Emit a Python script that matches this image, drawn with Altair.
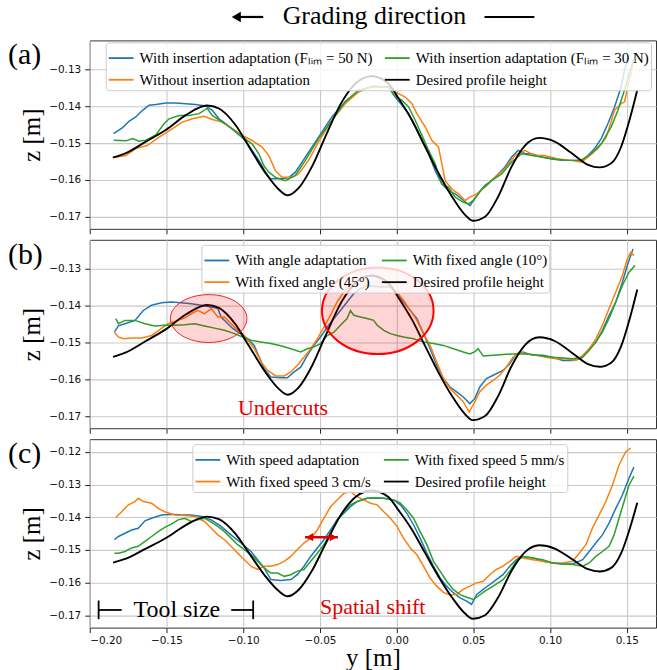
import altair as alt
import pandas as pd

# ---------------- data ----------------
XTICKS = [-0.20, -0.15, -0.10, -0.05, 0.00, 0.05, 0.10, 0.15]
YTICKS_AB = [-0.17, -0.16, -0.15, -0.14, -0.13]
YTICKS_C = [-0.17, -0.16, -0.15, -0.14, -0.13, -0.12]

DESIRED = [(-0.1848, -0.1539), (-0.1764, -0.1527), (-0.1634, -0.1496), (-0.1500, -0.1463),
           (-0.1374, -0.1424), (-0.1236, -0.1398), (-0.1158, -0.1406), (-0.1050, -0.1451),
           (-0.0963, -0.1509), (-0.0855, -0.1581), (-0.0768, -0.1626), (-0.0710, -0.1642),
           (-0.0638, -0.1622), (-0.0552, -0.1564), (-0.0465, -0.1483), (-0.0357, -0.1388),
           (-0.0270, -0.1339), (-0.0210, -0.1322), (-0.0160, -0.1318), (-0.0110, -0.1323),
           (-0.0052, -0.1339), (0.0013, -0.1379), (0.0100, -0.1438), (0.0186, -0.1510),
           (0.0273, -0.1582), (0.0360, -0.1645), (0.0446, -0.1695), (0.0495, -0.1711),
           (0.0576, -0.1700), (0.0662, -0.1645), (0.0749, -0.1564), (0.0836, -0.1507),
           (0.0930, -0.1486), (0.1030, -0.1496), (0.1139, -0.1527), (0.1247, -0.1559),
           (0.1323, -0.1566), (0.1398, -0.1555), (0.1463, -0.1510), (0.1517, -0.1438),
           (0.1568, -0.1356)]

A_BLUE = [(-0.1844, -0.1474), (-0.1786, -0.1458), (-0.1742, -0.1440), (-0.1700, -0.1429), (-0.1656, -0.1411),
          (-0.1613, -0.1397), (-0.1569, -0.1395), (-0.1504, -0.1391), (-0.1439, -0.1391), (-0.1374, -0.1393),
          (-0.1310, -0.1395), (-0.1245, -0.1399), (-0.1201, -0.1411), (-0.1158, -0.1434), (-0.1115, -0.1447),
          (-0.1050, -0.1470), (-0.0985, -0.1493), (-0.0942, -0.1520), (-0.0898, -0.1547), (-0.0855, -0.1579),
          (-0.0823, -0.1597), (-0.0768, -0.1597), (-0.0703, -0.1594), (-0.0660, -0.1579), (-0.0595, -0.1538),
          (-0.0509, -0.1484), (-0.0422, -0.1429), (-0.0336, -0.1388), (-0.0249, -0.1361), (-0.0162, -0.1347),
          (-0.0052, -0.1347), (-0.0009, -0.1375), (0.0035, -0.1397), (0.0078, -0.1420), (0.0121, -0.1456),
          (0.0165, -0.1493), (0.0208, -0.1529), (0.0251, -0.1575), (0.0294, -0.1611), (0.0338, -0.1629),
          (0.0381, -0.1638), (0.0424, -0.1652), (0.0478, -0.1670), (0.0500, -0.1656), (0.0532, -0.1638),
          (0.0576, -0.1615), (0.0619, -0.1602), (0.0662, -0.1584), (0.0706, -0.1565), (0.0749, -0.1538),
          (0.0792, -0.1520), (0.0836, -0.1529), (0.0879, -0.1529), (0.0944, -0.1538), (0.1009, -0.1543),
          (0.1074, -0.1547), (0.1139, -0.1547), (0.1203, -0.1547), (0.1247, -0.1534), (0.1290, -0.1515),
          (0.1333, -0.1488), (0.1377, -0.1447), (0.1420, -0.1402), (0.1463, -0.1347), (0.1485, -0.1302),
          (0.1511, -0.1261)]

A_ORANGE = [(-0.1851, -0.1540), (-0.1764, -0.1534), (-0.1699, -0.1515), (-0.1623, -0.1506), (-0.1548, -0.1484),
            (-0.1461, -0.1461), (-0.1396, -0.1443), (-0.1331, -0.1434), (-0.1255, -0.1427), (-0.1201, -0.1436),
            (-0.1136, -0.1443), (-0.1071, -0.1461), (-0.1006, -0.1479), (-0.0942, -0.1493), (-0.0877, -0.1511),
            (-0.0833, -0.1534), (-0.0790, -0.1575), (-0.0747, -0.1593), (-0.0682, -0.1593), (-0.0639, -0.1584),
            (-0.0574, -0.1547), (-0.0509, -0.1497), (-0.0422, -0.1438), (-0.0336, -0.1393), (-0.0249, -0.1361),
            (-0.0162, -0.1345), (-0.0052, -0.1347), (-0.0009, -0.1361), (0.0056, -0.1375), (0.0100, -0.1393),
            (0.0132, -0.1420), (0.0186, -0.1456), (0.0230, -0.1493), (0.0273, -0.1511), (0.0316, -0.1602),
            (0.0360, -0.1625), (0.0403, -0.1638), (0.0446, -0.1656), (0.0478, -0.1647), (0.0522, -0.1638),
            (0.0576, -0.1620), (0.0641, -0.1593), (0.0706, -0.1570), (0.0771, -0.1534), (0.0836, -0.1520),
            (0.0900, -0.1534), (0.0965, -0.1534), (0.1052, -0.1543), (0.1139, -0.1547), (0.1203, -0.1552),
            (0.1247, -0.1538), (0.1312, -0.1515), (0.1366, -0.1484), (0.1420, -0.1411), (0.1463, -0.1393),
            (0.1485, -0.1388), (0.1511, -0.1338), (0.1539, -0.1284)]

A_GREEN = [(-0.1844, -0.1492), (-0.1764, -0.1494), (-0.1720, -0.1488), (-0.1680, -0.1495), (-0.1634, -0.1492),
           (-0.1569, -0.1478), (-0.1515, -0.1447), (-0.1483, -0.1434), (-0.1418, -0.1425), (-0.1353, -0.1425),
           (-0.1288, -0.1420), (-0.1234, -0.1406), (-0.1201, -0.1425), (-0.1136, -0.1443), (-0.1071, -0.1461),
           (-0.1006, -0.1484), (-0.0942, -0.1502), (-0.0898, -0.1529), (-0.0866, -0.1561), (-0.0833, -0.1579),
           (-0.0790, -0.1593), (-0.0725, -0.1602), (-0.0660, -0.1588), (-0.0595, -0.1547), (-0.0509, -0.1488),
           (-0.0422, -0.1438), (-0.0336, -0.1388), (-0.0249, -0.1356), (-0.0162, -0.1347), (-0.0052, -0.1347),
           (-0.0019, -0.1370), (0.0035, -0.1384), (0.0078, -0.1402), (0.0121, -0.1438), (0.0165, -0.1479),
           (0.0208, -0.1520), (0.0251, -0.1556), (0.0294, -0.1611), (0.0338, -0.1620), (0.0381, -0.1647),
           (0.0435, -0.1661), (0.0468, -0.1665), (0.0500, -0.1656), (0.0554, -0.1625), (0.0619, -0.1602),
           (0.0684, -0.1584), (0.0749, -0.1552), (0.0814, -0.1529), (0.0879, -0.1534), (0.0944, -0.1538),
           (0.1030, -0.1543), (0.1117, -0.1547), (0.1203, -0.1547), (0.1268, -0.1529), (0.1333, -0.1502),
           (0.1398, -0.1456), (0.1442, -0.1411), (0.1485, -0.1356), (0.1528, -0.1293), (0.1561, -0.1256)]

B_BLUE = [(-0.1839, -0.1471), (-0.1813, -0.1455), (-0.1770, -0.1449), (-0.1705, -0.1440), (-0.1651, -0.1413),
          (-0.1597, -0.1399), (-0.1532, -0.1392), (-0.1468, -0.1390), (-0.1403, -0.1392), (-0.1338, -0.1395),
          (-0.1273, -0.1399), (-0.1208, -0.1404), (-0.1165, -0.1408), (-0.1144, -0.1431), (-0.1100, -0.1449),
          (-0.1068, -0.1462), (-0.1036, -0.1471), (-0.1003, -0.1480), (-0.0971, -0.1490), (-0.0928, -0.1508),
          (-0.0906, -0.1530), (-0.0863, -0.1571), (-0.0820, -0.1594), (-0.0755, -0.1596), (-0.0712, -0.1596),
          (-0.0668, -0.1580), (-0.0625, -0.1567), (-0.0582, -0.1535), (-0.0539, -0.1508), (-0.0496, -0.1485),
          (-0.0452, -0.1458), (-0.0409, -0.1435), (-0.0366, -0.1413), (-0.0323, -0.1390), (-0.0279, -0.1367),
          (-0.0236, -0.1354), (-0.0193, -0.1345), (-0.0106, -0.1349), (-0.0041, -0.1349), (0.0002, -0.1367),
          (0.0045, -0.1390), (0.0089, -0.1413), (0.0132, -0.1435), (0.0175, -0.1476), (0.0218, -0.1517),
          (0.0261, -0.1562), (0.0305, -0.1598), (0.0348, -0.1621), (0.0391, -0.1634), (0.0434, -0.1648),
          (0.0477, -0.1666), (0.0510, -0.1652), (0.0542, -0.1621), (0.0585, -0.1598), (0.0629, -0.1589),
          (0.0693, -0.1576), (0.0736, -0.1558), (0.0780, -0.1531), (0.0823, -0.1526), (0.0888, -0.1535),
          (0.0952, -0.1535), (0.1017, -0.1540), (0.1082, -0.1549), (0.1147, -0.1549), (0.1201, -0.1544),
          (0.1255, -0.1517), (0.1298, -0.1499), (0.1341, -0.1467), (0.1384, -0.1427), (0.1428, -0.1390),
          (0.1471, -0.1336), (0.1503, -0.1291), (0.1540, -0.1246)]

B_ORANGE = [(-0.1839, -0.1473), (-0.1813, -0.1485), (-0.1780, -0.1490), (-0.1727, -0.1488), (-0.1662, -0.1488),
            (-0.1597, -0.1481), (-0.1532, -0.1462), (-0.1489, -0.1449), (-0.1446, -0.1443), (-0.1381, -0.1433),
            (-0.1338, -0.1422), (-0.1295, -0.1413), (-0.1252, -0.1422), (-0.1208, -0.1408), (-0.1165, -0.1431),
            (-0.1122, -0.1431), (-0.1079, -0.1449), (-0.1036, -0.1467), (-0.0992, -0.1481), (-0.0928, -0.1517),
            (-0.0884, -0.1552), (-0.0841, -0.1576), (-0.0787, -0.1591), (-0.0733, -0.1591), (-0.0690, -0.1580),
            (-0.0647, -0.1562), (-0.0604, -0.1540), (-0.0560, -0.1517), (-0.0517, -0.1490), (-0.0474, -0.1458),
            (-0.0431, -0.1426), (-0.0388, -0.1390), (-0.0344, -0.1363), (-0.0301, -0.1345), (-0.0258, -0.1331),
            (-0.0215, -0.1322), (-0.0172, -0.1319), (-0.0127, -0.1322), (-0.0084, -0.1336), (-0.0041, -0.1349),
            (0.0002, -0.1363), (0.0045, -0.1386), (0.0089, -0.1413), (0.0132, -0.1440), (0.0175, -0.1476),
            (0.0218, -0.1508), (0.0261, -0.1553), (0.0305, -0.1598), (0.0348, -0.1625), (0.0391, -0.1643),
            (0.0434, -0.1661), (0.0473, -0.1689), (0.0510, -0.1661), (0.0542, -0.1634), (0.0585, -0.1616),
            (0.0629, -0.1603), (0.0672, -0.1589), (0.0715, -0.1567), (0.0758, -0.1540), (0.0801, -0.1526),
            (0.0844, -0.1531), (0.0909, -0.1535), (0.0974, -0.1540), (0.1039, -0.1544), (0.1104, -0.1544),
            (0.1168, -0.1549), (0.1212, -0.1535), (0.1255, -0.1517), (0.1298, -0.1490), (0.1341, -0.1453),
            (0.1384, -0.1408), (0.1428, -0.1363), (0.1471, -0.1318), (0.1503, -0.1273), (0.1525, -0.1255),
            (0.1546, -0.1264)]

B_GREEN = [(-0.1830, -0.1435), (-0.1813, -0.1449), (-0.1770, -0.1440), (-0.1705, -0.1440), (-0.1640, -0.1449),
           (-0.1576, -0.1455), (-0.1511, -0.1453), (-0.1446, -0.1453), (-0.1381, -0.1452), (-0.1316, -0.1449),
           (-0.1252, -0.1455), (-0.1187, -0.1461), (-0.1122, -0.1467), (-0.1057, -0.1476), (-0.1003, -0.1485),
           (-0.0949, -0.1494), (-0.0884, -0.1499), (-0.0820, -0.1503), (-0.0755, -0.1509), (-0.0690, -0.1517),
           (-0.0625, -0.1526), (-0.0582, -0.1517), (-0.0539, -0.1512), (-0.0496, -0.1503), (-0.0452, -0.1481),
           (-0.0409, -0.1472), (-0.0366, -0.1453), (-0.0323, -0.1435), (-0.0301, -0.1413), (-0.0279, -0.1426),
           (-0.0236, -0.1431), (-0.0193, -0.1435), (-0.0150, -0.1440), (-0.0127, -0.1453), (-0.0084, -0.1467),
           (-0.0041, -0.1476), (0.0002, -0.1481), (0.0045, -0.1485), (0.0110, -0.1490), (0.0175, -0.1499),
           (0.0240, -0.1503), (0.0305, -0.1508), (0.0370, -0.1517), (0.0434, -0.1526), (0.0477, -0.1531),
           (0.0510, -0.1525), (0.0531, -0.1517), (0.0564, -0.1537), (0.0629, -0.1535), (0.0693, -0.1533),
           (0.0758, -0.1531), (0.0823, -0.1531), (0.0888, -0.1533), (0.0952, -0.1537), (0.1017, -0.1540),
           (0.1082, -0.1542), (0.1147, -0.1544), (0.1212, -0.1540), (0.1255, -0.1521), (0.1298, -0.1499),
           (0.1341, -0.1471), (0.1384, -0.1435), (0.1428, -0.1390), (0.1471, -0.1345), (0.1514, -0.1309),
           (0.1553, -0.1291)]

C_BLUE = [(-0.1839, -0.1469), (-0.1813, -0.1459), (-0.1770, -0.1449), (-0.1727, -0.1439), (-0.1684, -0.1434),
          (-0.1640, -0.1411), (-0.1597, -0.1403), (-0.1532, -0.1393), (-0.1468, -0.1391), (-0.1403, -0.1393),
          (-0.1338, -0.1393), (-0.1273, -0.1398), (-0.1208, -0.1408), (-0.1144, -0.1428), (-0.1079, -0.1454),
          (-0.1014, -0.1479), (-0.0949, -0.1505), (-0.0906, -0.1530), (-0.0863, -0.1555), (-0.0820, -0.1591),
          (-0.0755, -0.1594), (-0.0690, -0.1591), (-0.0647, -0.1576), (-0.0604, -0.1550), (-0.0560, -0.1520),
          (-0.0517, -0.1494), (-0.0474, -0.1469), (-0.0431, -0.1439), (-0.0388, -0.1408), (-0.0344, -0.1388),
          (-0.0301, -0.1368), (-0.0258, -0.1352), (-0.0193, -0.1342), (-0.0149, -0.1342), (-0.0084, -0.1342),
          (-0.0019, -0.1347), (0.0024, -0.1362), (0.0067, -0.1388), (0.0110, -0.1423), (0.0153, -0.1464),
          (0.0197, -0.1510), (0.0240, -0.1550), (0.0283, -0.1586), (0.0326, -0.1611), (0.0369, -0.1631),
          (0.0413, -0.1647), (0.0456, -0.1657), (0.0488, -0.1667), (0.0521, -0.1637), (0.0564, -0.1621),
          (0.0607, -0.1606), (0.0650, -0.1591), (0.0693, -0.1576), (0.0737, -0.1550), (0.0780, -0.1530),
          (0.0823, -0.1520), (0.0888, -0.1525), (0.0952, -0.1535), (0.1017, -0.1540), (0.1082, -0.1543),
          (0.1147, -0.1543), (0.1212, -0.1530), (0.1255, -0.1505), (0.1298, -0.1479), (0.1341, -0.1454),
          (0.1384, -0.1418), (0.1428, -0.1373), (0.1471, -0.1332), (0.1514, -0.1281), (0.1546, -0.1246)]

C_ORANGE = [(-0.1830, -0.1401), (-0.1792, -0.1383), (-0.1748, -0.1362), (-0.1705, -0.1352), (-0.1684, -0.1342),
            (-0.1651, -0.1352), (-0.1597, -0.1357), (-0.1554, -0.1373), (-0.1511, -0.1383), (-0.1446, -0.1393),
            (-0.1381, -0.1395), (-0.1316, -0.1398), (-0.1252, -0.1413), (-0.1208, -0.1434), (-0.1165, -0.1454),
            (-0.1122, -0.1469), (-0.1079, -0.1489), (-0.1036, -0.1510), (-0.0992, -0.1530), (-0.0949, -0.1550),
            (-0.0906, -0.1560), (-0.0863, -0.1550), (-0.0820, -0.1550), (-0.0776, -0.1545), (-0.0733, -0.1535),
            (-0.0690, -0.1520), (-0.0647, -0.1499), (-0.0604, -0.1479), (-0.0560, -0.1464), (-0.0517, -0.1439),
            (-0.0474, -0.1403), (-0.0431, -0.1368), (-0.0388, -0.1347), (-0.0344, -0.1327), (-0.0301, -0.1322),
            (-0.0258, -0.1337), (-0.0215, -0.1347), (-0.0171, -0.1357), (-0.0127, -0.1362), (-0.0084, -0.1383),
            (-0.0041, -0.1403), (0.0002, -0.1428), (0.0045, -0.1464), (0.0089, -0.1494), (0.0132, -0.1515),
            (0.0175, -0.1550), (0.0218, -0.1586), (0.0261, -0.1611), (0.0305, -0.1630), (0.0348, -0.1638),
            (0.0391, -0.1636), (0.0434, -0.1621), (0.0477, -0.1611), (0.0521, -0.1601), (0.0564, -0.1596),
            (0.0607, -0.1576), (0.0650, -0.1560), (0.0693, -0.1550), (0.0737, -0.1535), (0.0780, -0.1520),
            (0.0823, -0.1525), (0.0888, -0.1530), (0.0952, -0.1535), (0.1017, -0.1540), (0.1082, -0.1540),
            (0.1147, -0.1535), (0.1190, -0.1510), (0.1233, -0.1484), (0.1276, -0.1433), (0.1320, -0.1393),
            (0.1363, -0.1352), (0.1406, -0.1302), (0.1449, -0.1240), (0.1492, -0.1200), (0.1525, -0.1188)]

C_GREEN = [(-0.1839, -0.1510), (-0.1813, -0.1510), (-0.1770, -0.1505), (-0.1727, -0.1494), (-0.1684, -0.1489),
           (-0.1640, -0.1474), (-0.1597, -0.1459), (-0.1554, -0.1444), (-0.1511, -0.1431), (-0.1468, -0.1421),
           (-0.1424, -0.1408), (-0.1381, -0.1403), (-0.1338, -0.1413), (-0.1295, -0.1408), (-0.1252, -0.1403),
           (-0.1208, -0.1415), (-0.1165, -0.1428), (-0.1122, -0.1444), (-0.1079, -0.1464), (-0.1036, -0.1484),
           (-0.0992, -0.1499), (-0.0949, -0.1515), (-0.0906, -0.1535), (-0.0863, -0.1555), (-0.0820, -0.1571),
           (-0.0776, -0.1571), (-0.0733, -0.1581), (-0.0690, -0.1576), (-0.0647, -0.1565), (-0.0604, -0.1560),
           (-0.0560, -0.1535), (-0.0517, -0.1510), (-0.0474, -0.1484), (-0.0431, -0.1449), (-0.0388, -0.1408),
           (-0.0344, -0.1383), (-0.0301, -0.1362), (-0.0258, -0.1352), (-0.0193, -0.1342), (-0.0149, -0.1340),
           (-0.0084, -0.1342), (-0.0019, -0.1347), (0.0024, -0.1357), (0.0067, -0.1378), (0.0110, -0.1403),
           (0.0153, -0.1444), (0.0197, -0.1484), (0.0240, -0.1535), (0.0283, -0.1565), (0.0326, -0.1596),
           (0.0369, -0.1621), (0.0413, -0.1637), (0.0456, -0.1645), (0.0499, -0.1652), (0.0531, -0.1642),
           (0.0575, -0.1626), (0.0629, -0.1611), (0.0693, -0.1591), (0.0737, -0.1565), (0.0780, -0.1535),
           (0.0823, -0.1520), (0.0888, -0.1525), (0.0952, -0.1530), (0.1017, -0.1540), (0.1082, -0.1543),
           (0.1147, -0.1545), (0.1212, -0.1550), (0.1255, -0.1540), (0.1298, -0.1520), (0.1341, -0.1505),
           (0.1384, -0.1489), (0.1417, -0.1454), (0.1449, -0.1403), (0.1482, -0.1352), (0.1514, -0.1302),
           (0.1546, -0.1274)]

LABELS_A = {"blue": "With insertion adaptation (F\u2097\u1d62\u2098 = 50 N)",
            "orange": "Without insertion adaptation",
            "green": "With insertion adaptation (F\u2097\u1d62\u2098 = 30 N)",
            "black": "Desired profile height"}
LABELS_B = {"blue": "With angle adaptation", "orange": "With fixed angle (45°)",
            "green": "With fixed angle (10°)", "black": "Desired profile height"}
LABELS_C = {"blue": "With speed adaptation", "orange": "With fixed speed 3 cm/s",
            "green": "With fixed speed 5 mm/s", "black": "Desired profile height"}

# annotations
UNDERCUT_ELLIPSES = [(-0.1225, -0.1435), (-0.0123, -0.1414)]
UNDERCUT_TEXT = [(-0.0740, -0.1698, "Undercuts")]
SHIFT_TEXT = [(-0.0156, -0.1695, "Spatial shift")]
SHIFT_ARROW = [(-0.0597, -0.0383, -0.1461)]
TOOL_TEXT = [(-0.1432, -0.1707, "Tool size")]
TOOL_HBARS = [(-0.1942, -0.1792, -0.1684), (-0.1078, -0.0935, -0.1684)]
TOOL_VBARS = [(-0.1942, -0.1655, -0.1712), (-0.0935, -0.1655, -0.1712)]
HEADER = "Grading direction"

BLUE, ORANGE, GREEN, BLACK = "#1f77b4", "#ff7f0e", "#2ca02c", "#000000"
SERIF = "Liberation Serif"
PW = 568
XDOM = [-0.2, 0.169]
YDOM_AB = [-0.1733, -0.1221]
YDOM_C = [-0.1738, -0.1161]


def sdf(pairs, label):
    return pd.DataFrame({"y": [p[0] for p in pairs], "z": [p[1] for p in pairs], "s": label})


def make_panel(tag, labels, blue, orange, green, ydom, yticks, show_x, leg_x, leg_y, extras_fn):
    dom = [labels["blue"], labels["orange"], labels["green"], labels["black"]]
    color = alt.Color("s:N", scale=alt.Scale(domain=dom, range=[BLUE, ORANGE, GREEN, BLACK]),
                      legend=alt.Legend(title=None, orient="none", legendX=leg_x, legendY=leg_y,
                                        columns=2, symbolType="stroke", symbolSize=620,
                                        symbolStrokeWidth=1.8, labelFont=SERIF, labelFontSize=15,
                                        labelColor="#000", labelLimit=500, labelOffset=5,
                                        columnPadding=8, rowPadding=-16, padding=2,
                                        fillColor="rgba(255,255,255,0.8)", strokeColor="#cccccc",
                                        cornerRadius=3))
    if show_x:
        xaxis = alt.Axis(values=XTICKS, format=".2f", title="y [m]", labelPadding=3, titlePadding=0)
    else:
        xaxis = alt.Axis(values=XTICKS, labels=False, title=None)
    xenc = alt.X("y:Q", scale=alt.Scale(domain=XDOM, nice=False, zero=False), axis=xaxis)
    yenc = alt.Y("z:Q", scale=alt.Scale(domain=ydom, nice=False, zero=False),
                 axis=alt.Axis(values=yticks, format=".2f", title="z [m]", labelPadding=4,
                               titlePadding=4))
    layers = []
    for pairs, key in [(blue, "blue"), (orange, "orange"), (green, "green")]:
        layers.append(alt.Chart(sdf(pairs, labels[key])).mark_line(strokeWidth=1.5, clip=True)
                      .encode(x=xenc, y=yenc, color=color))
    layers.append(alt.Chart(sdf(DESIRED, labels["black"]))
                  .mark_line(strokeWidth=1.9, interpolate="monotone", clip=True)
                  .encode(x=xenc, y=yenc, color=color))
    layers.extend(extras_fn(xenc, yenc))
    layers.append(alt.Chart(pd.DataFrame({"t": [tag]}))
                  .mark_text(align="left", baseline="middle", font=SERIF, fontSize=30, color="#000")
                  .encode(text="t:N", x=alt.value(-82), y=alt.value(15)))
    return alt.layer(*layers).properties(width=PW, height=189)


def extras_a(xenc, yenc):
    # header above panel (a): arrow, "Grading direction", bar
    one = pd.DataFrame({"t": [HEADER]})
    return [
        alt.Chart(one).mark_text(font=SERIF, fontSize=26, color="#000", align="center",
                                 baseline="middle")
        .encode(text="t:N", x=alt.value(285.5), y=alt.value(-24)),
        alt.Chart(one).mark_rule(color="#000", strokeWidth=2.2)
        .encode(x=alt.value(150), x2=alt.value(174), y=alt.value(-23.5)),
        alt.Chart(one).mark_point(shape="triangle-left", filled=True, color="#000", size=110, opacity=1)
        .encode(x=alt.value(147), y=alt.value(-23.5)),
        alt.Chart(one).mark_rule(color="#000", strokeWidth=2.2)
        .encode(x=alt.value(396), x2=alt.value(446), y=alt.value(-23.5)),
    ]


def extras_b(xenc, yenc):
    e1 = pd.DataFrame({"y": [UNDERCUT_ELLIPSES[0][0]], "z": [UNDERCUT_ELLIPSES[0][1]]})
    e2 = pd.DataFrame({"y": [UNDERCUT_ELLIPSES[1][0]], "z": [UNDERCUT_ELLIPSES[1][1]]})
    t = pd.DataFrame({"y": [p[0] for p in UNDERCUT_TEXT], "z": [p[1] for p in UNDERCUT_TEXT],
                      "t": [p[2] for p in UNDERCUT_TEXT]})
    return [
        alt.Chart(e1).mark_point(shape="M -1 0 A 1 0.626 0 1 1 1 0 A 1 0.626 0 1 1 -1 0 Z",
                                 size=5880, filled=True, fill="#ff0000", fillOpacity=0.17,
                                 stroke="#ee2222", strokeWidth=1, opacity=1)
        .encode(x=xenc, y=yenc),
        alt.Chart(e2).mark_point(shape="M -1 0 A 1 0.774 0 1 1 1 0 A 1 0.774 0 1 1 -1 0 Z",
                                 size=12540, filled=True, fill="#ff0000", fillOpacity=0.17,
                                 stroke="#ff0000", strokeWidth=2, opacity=1)
        .encode(x=xenc, y=yenc),
        alt.Chart(t).mark_text(font=SERIF, fontSize=22, color="#e00000", baseline="alphabetic")
        .encode(x=xenc, y=yenc, text="t:N"),
    ]


def extras_c(xenc, yenc):
    st = pd.DataFrame({"y": [p[0] for p in SHIFT_TEXT], "z": [p[1] for p in SHIFT_TEXT],
                       "t": [p[2] for p in SHIFT_TEXT]})
    tt = pd.DataFrame({"y": [p[0] for p in TOOL_TEXT], "z": [p[1] for p in TOOL_TEXT],
                       "t": [p[2] for p in TOOL_TEXT]})
    ar = pd.DataFrame({"y": [SHIFT_ARROW[0][0]], "y2": [SHIFT_ARROW[0][1]], "z": [SHIFT_ARROW[0][2]]})
    heads = pd.DataFrame({"y": [SHIFT_ARROW[0][0] + 0.0030, SHIFT_ARROW[0][1] - 0.0030],
                          "z": [SHIFT_ARROW[0][2]] * 2,
                          "sh": ["triangle-left", "triangle-right"]})
    hb = pd.DataFrame({"y": [b[0] for b in TOOL_HBARS], "y2": [b[1] for b in TOOL_HBARS],
                       "z": [b[2] for b in TOOL_HBARS]})
    vb = pd.DataFrame({"y": [b[0] for b in TOOL_VBARS], "z": [b[1] for b in TOOL_VBARS],
                       "z2": [b[2] for b in TOOL_VBARS]})
    return [
        alt.Chart(st).mark_text(font=SERIF, fontSize=22, color="#e00000", baseline="alphabetic")
        .encode(x=xenc, y=yenc, text="t:N"),
        alt.Chart(tt).mark_text(font=SERIF, fontSize=24, color="#000", baseline="alphabetic")
        .encode(x=xenc, y=yenc, text="t:N"),
        alt.Chart(ar).mark_rule(color="#dd0000", strokeWidth=2.5)
        .encode(x=xenc, x2="y2:Q", y=yenc),
        alt.Chart(heads).mark_point(filled=True, color="#dd0000", size=70, opacity=1)
        .encode(x=xenc, y=yenc, shape=alt.Shape("sh:N", scale=None, legend=None)),
        alt.Chart(hb).mark_rule(color="#000", strokeWidth=1.8).encode(x=xenc, x2="y2:Q", y=yenc),
        alt.Chart(vb).mark_rule(color="#000", strokeWidth=1.8).encode(x=xenc, y=yenc, y2="z2:Q"),
    ]


pa = make_panel("(a)", LABELS_A, A_BLUE, A_ORANGE, A_GREEN, YDOM_AB, YTICKS_AB, False, 16, 2, extras_a)
pb = make_panel("(b)", LABELS_B, B_BLUE, B_ORANGE, B_GREEN, YDOM_AB, YTICKS_AB, False, 112, 5, extras_b)
pc = make_panel("(c)", LABELS_C, C_BLUE, C_ORANGE, C_GREEN, YDOM_C, YTICKS_C, True, 103, 5, extras_c)

chart = (alt.vconcat(pa, pb, pc, spacing=4)
         .resolve_scale(color="independent", x="independent", y="independent")
         .properties(padding={"left": 7, "top": 1.5, "right": 0, "bottom": 0}, background="white")
         .configure_axis(gridColor="#c8c8c8", gridWidth=1.1, tickColor="#222", tickSize=5, tickWidth=1,
                         labelFont="DejaVu Sans", labelFontSize=10.5, labelColor="#111",
                         titleFont=SERIF, titleFontSize=25, titleFontWeight="normal", titleColor="#000",
                         domain=False)
         .configure_view(stroke="#333333", strokeWidth=1))

chart.save("out.html", embed_options={"renderer": "svg", "actions": False})
